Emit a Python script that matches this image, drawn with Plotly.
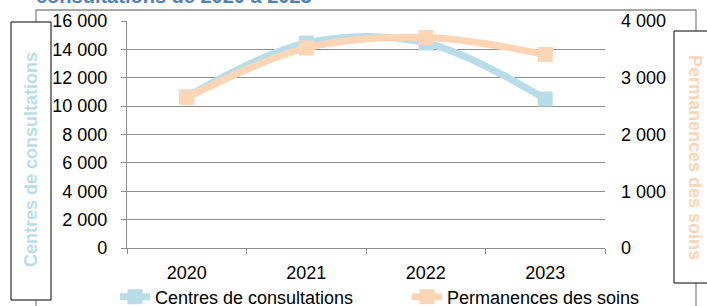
import plotly.graph_objects as go

years = ["2020", "2021", "2022", "2023"]
centres = [10650, 14450, 14450, 10500]
permanences = [2650, 3525, 3710, 3410]
left_ticks = [0, 2000, 4000, 6000, 8000, 10000, 12000, 14000, 16000]
right_ticks = [0, 1000, 2000, 3000, 4000]

W, H = 707, 306
L, R, T, B = 127, 605, 21, 248  # plot area in pixels

def px(x):
    return (x - L) / (R - L)

def py(y):
    return (B - y) / (B - T)

FONT = "Arial, Liberation Sans, sans-serif"
BLUE = "#b7dee8"
PEACH = "#fcd5b5"
GRID = "#8c8c8c"

fig = go.Figure()
fig.add_trace(go.Scatter(
    x=years, y=centres, name="Centres de consultations", yaxis="y", legend="legend",
    mode="lines+markers", line=dict(color=BLUE, width=7, shape="spline", smoothing=1),
    marker=dict(symbol="square", size=15, color=BLUE),
))
fig.add_trace(go.Scatter(
    x=years, y=permanences, name="Permanences des soins", yaxis="y2", legend="legend2",
    mode="lines+markers", line=dict(color=PEACH, width=7, shape="spline", smoothing=1),
    marker=dict(symbol="square", size=15, color=PEACH),
))

shapes = [
    dict(type="rect", xref="paper", yref="paper", x0=px(36), x1=px(696), y0=py(330), y1=py(10),
         line=dict(color=GRID, width=1.3), fillcolor="rgba(0,0,0,0)", layer="above"),
    dict(type="rect", xref="paper", yref="paper", x0=px(11), x1=px(51), y0=py(300), y1=py(22),
         line=dict(color="black", width=1), fillcolor="white", layer="above"),
    dict(type="rect", xref="paper", yref="paper", x0=px(674), x1=px(730), y0=py(283), y1=py(31),
         line=dict(color="black", width=1), fillcolor="white", layer="above"),
]

annotations = [
    dict(text="<b>consultations de 2020 à 2023</b>", xref="paper", yref="paper",
         x=px(34), y=py(9), xanchor="left", yanchor="bottom", showarrow=False,
         font=dict(family=FONT, size=20, color="#4f81bd")),
    dict(text="<b>Centres de consultations</b>", xref="paper", yref="paper",
         x=px(31), y=py(160), xanchor="center", yanchor="middle", showarrow=False, textangle=-90,
         font=dict(family=FONT, size=18, color=BLUE)),
    dict(text="<b>Permanences des soins</b>", xref="paper", yref="paper",
         x=px(695), y=py(157), xanchor="center", yanchor="middle", showarrow=False, textangle=90,
         font=dict(family=FONT, size=18, color=PEACH)),
]

leg_common = dict(orientation="h", yanchor="middle", xanchor="left",
                  font=dict(family=FONT, size=18, color="black"),
                  bgcolor="rgba(0,0,0,0)", borderwidth=0, itemwidth=30)

fig.update_layout(
    width=W, height=H,
    margin=dict(l=L, r=W - R, t=T, b=H - B, pad=0, autoexpand=False),
    paper_bgcolor="white", plot_bgcolor="white",
    separators=", ",
    font=dict(family=FONT, size=18, color="black"),
    showlegend=True,
    legend=dict(x=px(115), y=py(297), **leg_common),
    legend2=dict(x=px(407), y=py(297), **leg_common),
    xaxis=dict(type="category", range=[-0.5, 3.5], tickson="boundaries", ticks="outside",
               ticklen=5, tickcolor=GRID, showline=True, linecolor=GRID, linewidth=1.3,
               showgrid=False, ticklabelstandoff=8, tickfont=dict(size=18)),
    yaxis=dict(range=[0, 16000], tickvals=left_ticks, tickformat=",d", ticks="outside",
               ticklen=5, tickcolor=GRID, showline=True, linecolor=GRID, linewidth=1.3,
               showgrid=True, gridcolor=GRID, gridwidth=1.3, zeroline=False,
               ticklabelstandoff=10, tickfont=dict(size=18)),
    yaxis2=dict(range=[0, 4000], tickvals=right_ticks, tickformat=",d", overlaying="y",
                side="right", showgrid=False, showline=False, ticks="", zeroline=False,
                ticklabelstandoff=15, tickfont=dict(size=18)),
    shapes=shapes,
    annotations=annotations,
)

fig.write_html("out.html", config={"displayModeBar": False},
               post_script="document.body.style.margin='0';document.body.style.overflow='hidden';")
